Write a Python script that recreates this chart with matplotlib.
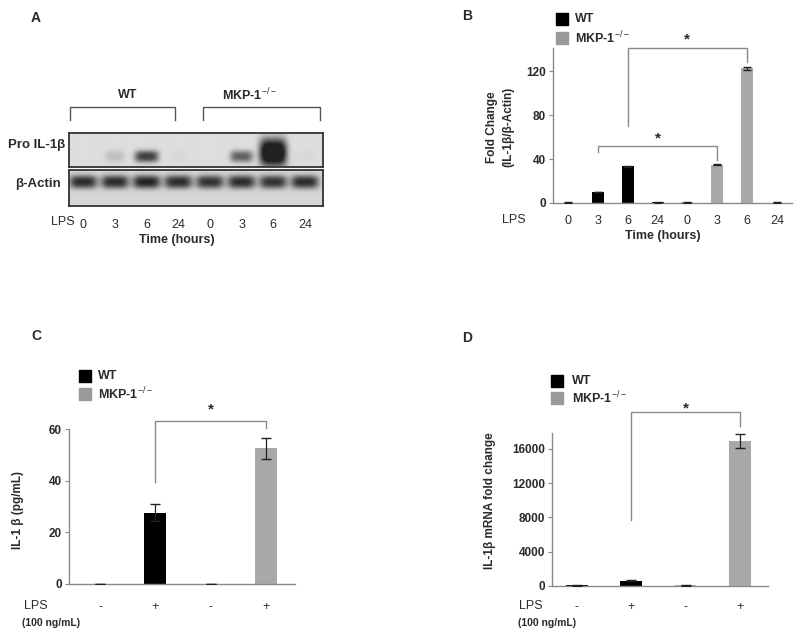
import numpy as np
import matplotlib
matplotlib.use('Agg')
import matplotlib.pyplot as plt

plt.rcParams['font.family'] = ['Liberation Sans', 'DejaVu Sans']
plt.rcParams['mathtext.fontset'] = 'custom'
plt.rcParams['mathtext.rm'] = 'Liberation Sans'
plt.rcParams['mathtext.it'] = 'Liberation Sans'
plt.rcParams['mathtext.bf'] = 'Liberation Sans:bold'

# ---------------- data ----------------
blot_lanes = ['0', '3', '6', '24', '0', '3', '6', '24']
pro_il1b_band = [0.0, 0.15, 0.8, 0.03, 0.0, 0.62, 1.3, 0.03]
actin_band = [0.85, 0.85, 0.9, 0.85, 0.82, 0.85, 0.82, 0.85]

b_times = ['0', '3', '6', '24']
b_wt = [0.4, 10, 33.5, 0.6]
b_wt_err = [0.3, 0.4, 0.6, 0.3]
b_mkp = [0.5, 35, 122.5, 0.4]
b_mkp_err = [0.3, 0.5, 1.5, 0.3]

cd_lps = ['-', '+']
c_wt = [0.0, 27.5]
c_wt_err = [0.0, 3.3]
c_mkp = [0.0, 52.5]
c_mkp_err = [0.0, 4.0]

d_wt = [60, 620]
d_wt_err = [30, 60]
d_mkp = [60, 16950]
d_mkp_err = [30, 800]

WT_COLOR = '#000000'
MKP_COLOR = '#a8a8a8'
SPINE = '#8a8a8a'
TXT = '#2a2a2a'

# ---------------- helpers ----------------
W, H = 800, 639
fig = plt.figure(figsize=(8, 6.39), dpi=100)


def add_ax(x0, y0, x1, y1):
    return fig.add_axes([x0 / W, 1 - y1 / H, (x1 - x0) / W, (y1 - y0) / H])


over = fig.add_axes([0, 0, 1, 1], zorder=10)
over.set_xlim(0, W)
over.set_ylim(H, 0)
over.axis('off')
over.patch.set_alpha(0)


def ptext(x, y, s, **kw):
    kw.setdefault('color', TXT)
    over.text(x, y, s, **kw)


def style_axes(ax):
    for s in ['top', 'right']:
        ax.spines[s].set_visible(False)
    for s in ['left', 'bottom']:
        ax.spines[s].set_color(SPINE)
        ax.spines[s].set_linewidth(1.0)
    ax.tick_params(axis='y', direction='out', length=3, width=0.8, color=SPINE,
                   labelsize=8.5, labelcolor=TXT, pad=2)
    ax.tick_params(axis='x', length=0, labelsize=8.5, labelcolor=TXT)
    for lab in ax.get_yticklabels():
        lab.set_fontweight('bold')
    ax.patch.set_alpha(0)


def legend_box(x, y1, y2, tx):
    over.scatter([x, x], [y1, y2], marker='s', s=66, c=[WT_COLOR, '#9a9a9a'])
    ptext(tx, y1, 'WT', fontsize=9, fontweight='bold', va='center', ha='left')
    ptext(tx, y2, r'MKP-1$^{-/-}$', fontsize=9, fontweight='bold', va='center', ha='left')


def bracket(ax, x1, x2, ytop, y1, y2, ystar):
    ax.plot([x1, x1, x2, x2], [y1, ytop, ytop, y2], color=SPINE, lw=1.0, clip_on=False)
    ax.text((x1 + x2) / 2, ystar, '*', ha='center', va='center', fontsize=11,
            color=TXT, fontweight='bold', clip_on=False)

# ---------------- Panel A (western blot) ----------------
lane_x = np.arange(len(blot_lanes))
xlo, xhi = -0.45, 7.57


def blot_image(ax, bands, hpx, bg, yc_fn, sy_fn, sx_fn):
    nx, ny = 600, int(hpx * 4)
    X = np.linspace(xlo, xhi, nx)[None, :]
    Y = np.linspace(0, hpx, ny)[:, None]
    dark = np.zeros((ny, nx))
    for i, inten in enumerate(bands):
        if inten <= 0:
            continue
        yc, sy, sx = yc_fn(inten), sy_fn(inten), sx_fn(inten)
        dark += inten * np.exp(-np.abs((X - lane_x[i]) / sx) ** 4) * np.exp(-np.abs((Y - yc) / sy) ** 2.5)
    img = np.clip(bg - 0.78 * dark, 0.13, 1)
    ax.imshow(img, cmap='gray', vmin=0, vmax=1, extent=[xlo, xhi, hpx, 0],
              aspect='auto', interpolation='bilinear')
    ax.set_xlim(xlo, xhi)
    ax.set_ylim(hpx, 0)
    ax.set_yticks([])
    for s in ax.spines.values():
        s.set_color('#333333')
        s.set_linewidth(1.3)


axA1 = add_ax(69, 133, 323, 167)
blot_image(axA1, pro_il1b_band, 34, 0.87,
           lambda I: 23.5 - 8 * max(I - 0.8, 0),
           lambda I: 6.0 + 16 * max(I - 0.8, 0),
           lambda I: 0.3 + 0.1 * min(I, 1.3))
axA1.set_xticks([])

axA2 = add_ax(69, 170, 323, 206)
blot_image(axA2, actin_band, 36, 0.84,
           lambda I: 12.5, lambda I: 6.5, lambda I: 0.44)
axA2.set_xticks(lane_x)
axA2.set_xticklabels(blot_lanes, fontsize=9, color=TXT)
axA2.tick_params(axis='x', length=0, pad=9)

# brackets over the groups
for xa, xb in [(70, 175), (203, 320)]:
    over.plot([xa, xa, xb, xb], [120, 107, 107, 120], color='#555555', lw=1.0)
ptext(128, 95, 'WT', fontsize=9, fontweight='bold', ha='center', va='center')
ptext(249, 95, r'MKP-1$^{-/-}$', fontsize=9, fontweight='bold', ha='center', va='center')
ptext(65, 145, 'Pro IL-1β', fontsize=9.5, fontweight='bold', ha='right', va='center')
ptext(61, 184, 'β-Actin', fontsize=9.5, fontweight='bold', ha='right', va='center')
ptext(75, 222, 'LPS', fontsize=9, ha='right', va='center')
ptext(177, 240, 'Time (hours)', fontsize=9, fontweight='bold', ha='center', va='center')
ptext(36, 18, 'A', fontsize=10, fontweight='bold', ha='center', va='center')

# ---------------- Panel B ----------------
axB = add_ax(553, 48, 792, 203)
nB = len(b_times)
xw = np.arange(nB)
xm = np.arange(nB) + nB
axB.bar(xw, b_wt, width=0.4, color=WT_COLOR, zorder=2)
axB.bar(xm, b_mkp, width=0.4, color=MKP_COLOR, zorder=2)
axB.errorbar(xw, b_wt, yerr=b_wt_err, fmt='none', ecolor='#222222', elinewidth=0.8, capsize=3, zorder=3)
axB.errorbar(xm, b_mkp, yerr=b_mkp_err, fmt='none', ecolor='#222222', elinewidth=0.8, capsize=3, zorder=3)
axB.set_xlim(-0.5, 2 * nB - 0.5)
axB.set_ylim(0, 141)
axB.set_yticks([0, 40, 80, 120])
axB.set_xticks(np.arange(2 * nB))
axB.set_xticklabels(b_times + b_times)
style_axes(axB)
axB.tick_params(axis='x', pad=9, labelsize=9)
bracket(axB, 1, 5, 51.5, 46, 39, 59)
bracket(axB, 2, 6, 141, 70, 128, 149)
ptext(500, 127, 'Fold Change\n(IL-1β/β-Actin)', fontsize=8.5, fontweight='bold', rotation=90,
      ha='center', va='center', linespacing=1.55)
ptext(526, 220, 'LPS', fontsize=9, ha='right', va='center')
ptext(663, 236, 'Time (hours)', fontsize=9, fontweight='bold', ha='center', va='center')
legend_box(562, 19, 38, 575)
ptext(467, 16, 'B', fontsize=10, fontweight='bold', ha='center', va='center')

# ---------------- Panel C ----------------
axC = add_ax(69, 429, 295, 584)
xc_w = np.arange(len(c_wt))
xc_m = np.arange(len(c_mkp)) + len(c_wt)
axC.bar(xc_w, c_wt, width=0.4, color=WT_COLOR, zorder=2)
axC.bar(xc_m, c_mkp, width=0.4, color=MKP_COLOR, zorder=2)
axC.errorbar(xc_w, c_wt, yerr=c_wt_err, fmt='none', ecolor='#222222', elinewidth=0.9, capsize=3.5, zorder=3)
axC.errorbar(xc_m, c_mkp, yerr=c_mkp_err, fmt='none', ecolor='#222222', elinewidth=0.9, capsize=3.5, zorder=3)
axC.set_xlim(-0.56, 3.52)
axC.set_ylim(0, 60)
axC.set_yticks([0, 20, 40, 60])
axC.set_xticks(np.arange(4))
axC.set_xticklabels(cd_lps + cd_lps)
style_axes(axC)
axC.tick_params(axis='x', pad=12, labelsize=9)
bracket(axC, 1, 3, 63.1, 39.5, 60.2, 67.5)
ptext(18, 510, 'IL-1 β (pg/mL)', fontsize=8.5, fontweight='bold', rotation=90, ha='center', va='center')
ptext(24, 606, 'LPS', fontsize=9, ha='left', va='center')
ptext(22, 623, '(100 ng/mL)', fontsize=7.5, fontweight='bold', ha='left', va='center')
legend_box(85, 376, 394, 98)
ptext(36, 336, 'C', fontsize=10, fontweight='bold', ha='center', va='center')

# ---------------- Panel D ----------------
axD = add_ax(552, 433, 768, 586)
xd_w = np.arange(len(d_wt))
xd_m = np.arange(len(d_mkp)) + len(d_wt)
axD.bar(xd_w, d_wt, width=0.4, color=WT_COLOR, zorder=2)
axD.bar(xd_m, d_mkp, width=0.4, color=MKP_COLOR, zorder=2)
axD.errorbar(xd_w, d_wt, yerr=d_wt_err, fmt='none', ecolor='#222222', elinewidth=0.9, capsize=3.5, zorder=3)
axD.errorbar(xd_m, d_mkp, yerr=d_mkp_err, fmt='none', ecolor='#222222', elinewidth=0.9, capsize=3.5, zorder=3)
axD.set_xlim(-0.46, 3.52)
axD.set_ylim(0, 17850)
axD.set_yticks([0, 4000, 8000, 12000, 16000])
axD.set_xticks(np.arange(4))
axD.set_xticklabels(cd_lps + cd_lps)
style_axes(axD)
axD.tick_params(axis='x', pad=11, labelsize=9)
bracket(axD, 1, 3, 20330, 7700, 18660, 20700)
ptext(490, 501, 'IL-1β mRNA fold change', fontsize=8.5, fontweight='bold', rotation=90, ha='center', va='center')
ptext(519, 606, 'LPS', fontsize=9, ha='left', va='center')
ptext(518, 623, '(100 ng/mL)', fontsize=7.5, fontweight='bold', ha='left', va='center')
legend_box(557, 381, 398, 572)
ptext(467, 338, 'D', fontsize=10, fontweight='bold', ha='center', va='center')

fig.savefig('out.png', dpi=100)
